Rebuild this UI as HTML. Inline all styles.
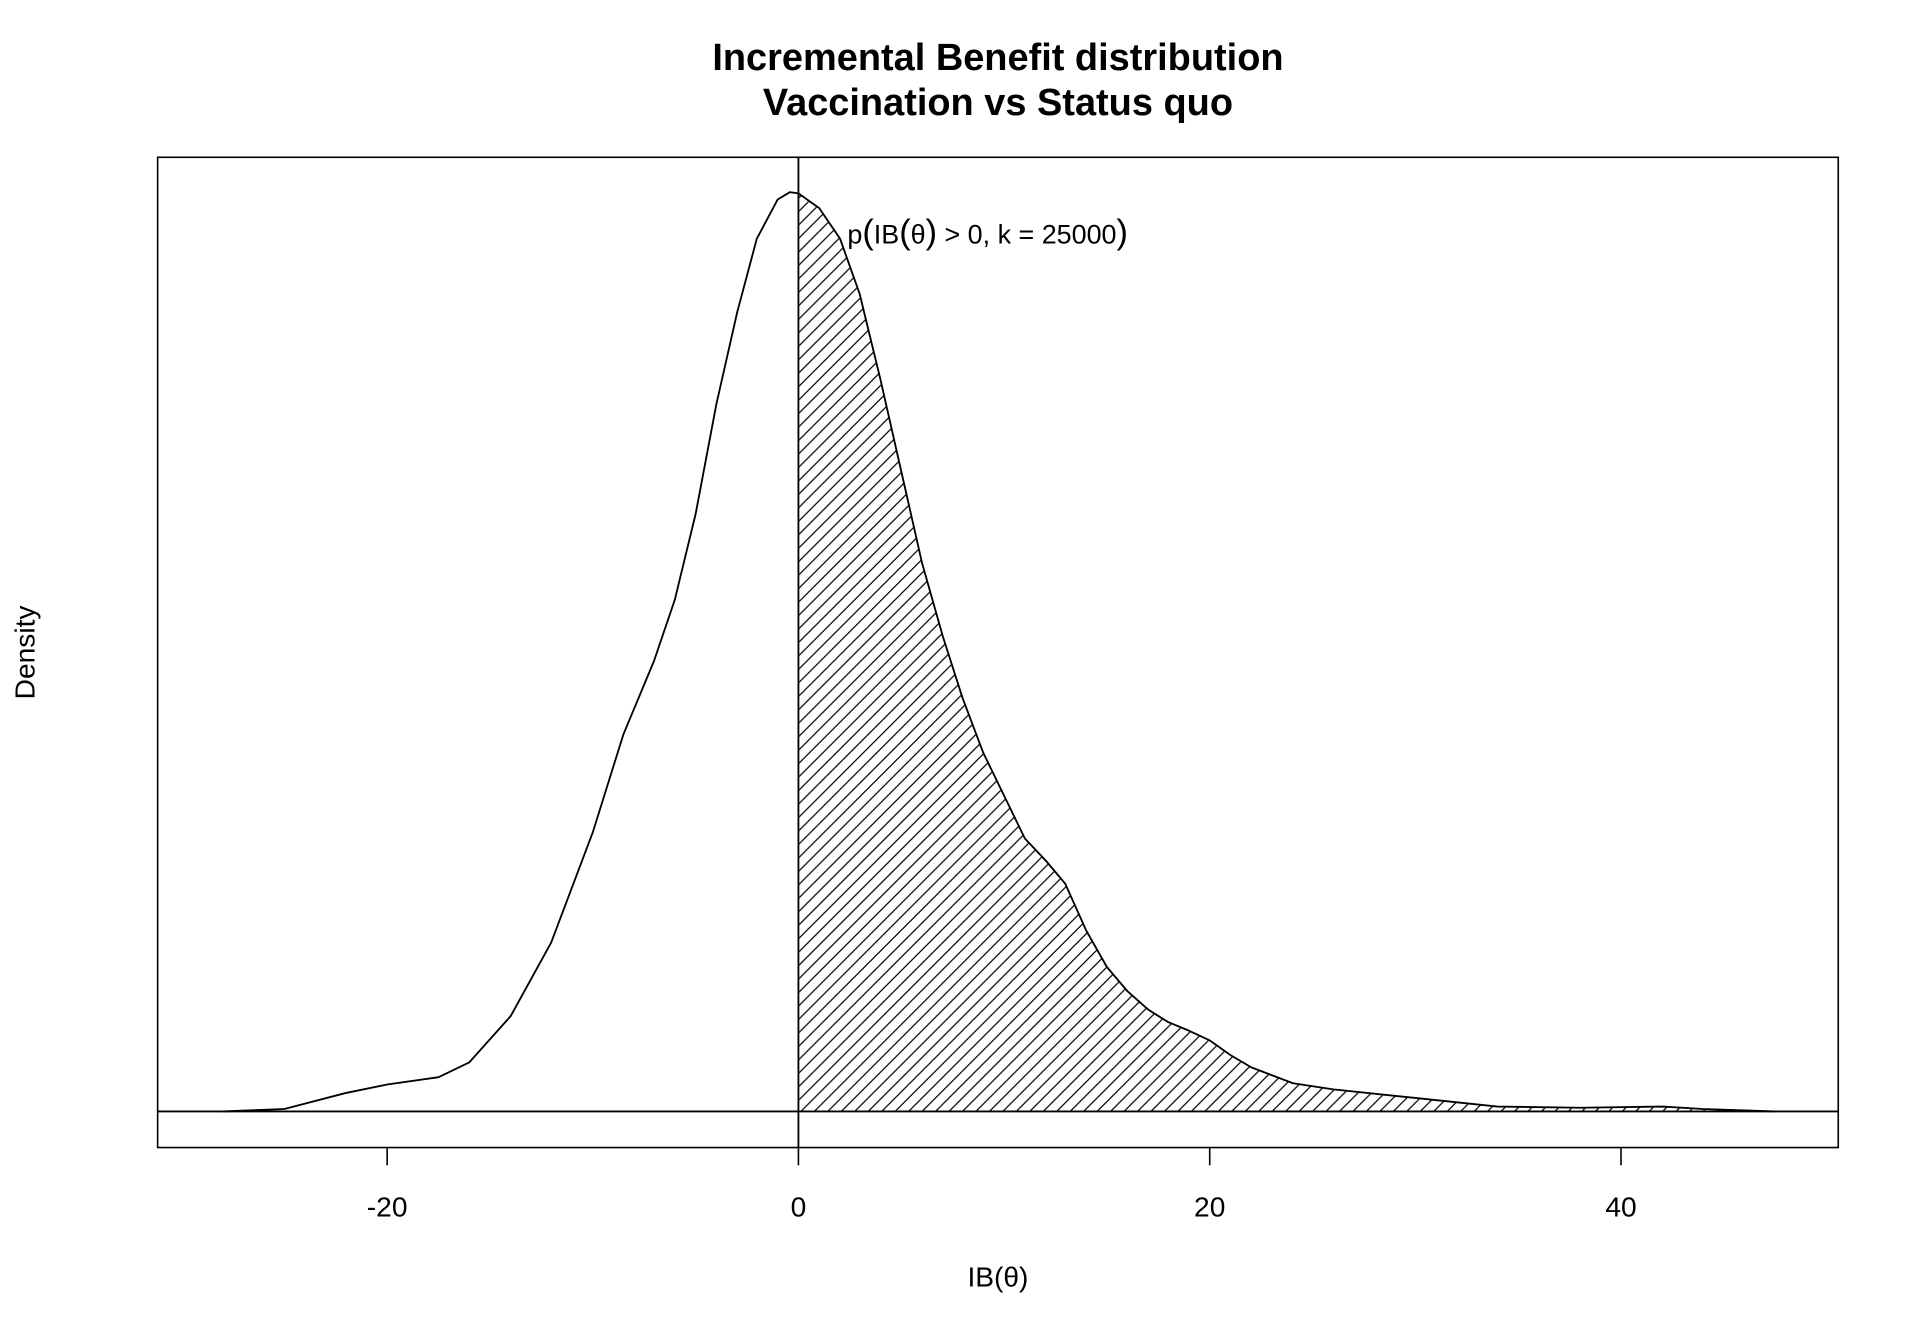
<!DOCTYPE html>
<html><head><style>html,body{margin:0;padding:0;background:#fff}svg{display:block}</style></head>
<body>
<svg width="1920" height="1344" viewBox="0 0 1568 1098" xmlns="http://www.w3.org/2000/svg" font-family="Liberation Sans, DejaVu Sans, sans-serif">
<defs>
<pattern id="h" patternUnits="userSpaceOnUse" width="11" height="11">
<path d="M-1,12 L12,-1 M-6,6 L6,-6 M5,17 L17,5" stroke="#000" stroke-width="1"/>
</pattern>
<clipPath id="c"><rect x="652" y="100" width="900" height="808.5"/></clipPath>
</defs>
<text x="815" y="57" font-size="31" font-weight="bold" text-anchor="middle">Incremental Benefit distribution</text>
<text x="815" y="94" font-size="31" font-weight="bold" text-anchor="middle">Vaccination vs Status quo</text>
<rect x="128.5" y="128.5" width="1373" height="809" fill="none" stroke="#000" stroke-width="1.3"/>
<g id="curve">
<path clip-path="url(#c)" fill="url(#h)" stroke="none" d="M181.6,908 L232,906 L282,893 L316,886 L358,880 L383,868 L417,830 L450,770 L484,680 L509,600 L534,540 L551,490 L568,420 L585,330 L602,255 L618,195 L635,163 L645,157 L652,158 L669,170 L686,195 L702,240 L719,310 L736,385 L753,460 L770,520 L786,570 L803,615 L820,650 L837,685 L854,703 L870,722 L887,760 L904,790 L921,810 L938,825 L954,835 L971,842 L988,850 L1005,862 L1022,872 L1056,885 L1089,890 L1156,897 L1223,904 L1291,905 L1358,904 L1391,906 L1450,908 Z"/>
<path fill="none" stroke="#000" stroke-width="1.5" stroke-linejoin="round" d="M181.6,908 L232,906 L282,893 L316,886 L358,880 L383,868 L417,830 L450,770 L484,680 L509,600 L534,540 L551,490 L568,420 L585,330 L602,255 L618,195 L635,163 L645,157 L652,158 L669,170 L686,195 L702,240 L719,310 L736,385 L753,460 L770,520 L786,570 L803,615 L820,650 L837,685 L854,703 L870,722 L887,760 L904,790 L921,810 L938,825 L954,835 L971,842 L988,850 L1005,862 L1022,872 L1056,885 L1089,890 L1156,897 L1223,904 L1291,905 L1358,904 L1391,906 L1450,908"/>
</g>
<line x1="128" y1="908" x2="1502" y2="908" stroke="#000" stroke-width="1.5"/>
<line x1="652" y1="128" x2="652" y2="938" stroke="#000" stroke-width="1.5"/>
<text x="692" y="199" font-size="22">p<tspan font-size="28">(</tspan>IB<tspan font-size="28">(</tspan>θ<tspan font-size="28">)</tspan> &gt; 0, k = 25000<tspan font-size="28">)</tspan></text>
<g stroke="#000" stroke-width="1.3">
<line x1="316" y1="938" x2="316" y2="952"/><line x1="652" y1="938" x2="652" y2="952"/>
<line x1="988" y1="938" x2="988" y2="952"/><line x1="1324" y1="938" x2="1324" y2="952"/>
</g>
<g font-size="23" text-anchor="middle">
<text x="316" y="994">-20</text><text x="652" y="994">0</text><text x="988" y="994">20</text><text x="1324" y="994">40</text>
<text x="815" y="1051">IB(θ)</text>
<text transform="translate(28,533) rotate(-90)">Density</text>
</g>
</svg>
</body></html>
